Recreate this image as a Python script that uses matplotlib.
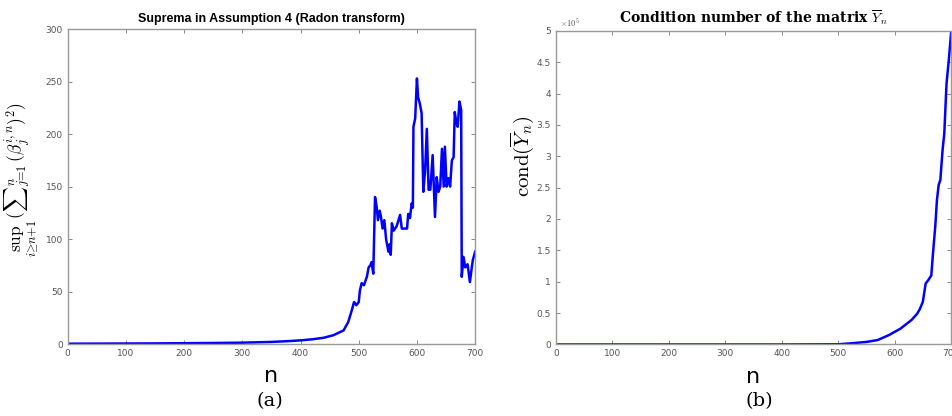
import matplotlib.pyplot as plt
from matplotlib.ticker import FuncFormatter

plt.rcParams['mathtext.fontset'] = 'cm'

# (a) suprema
n_a = [0, 50, 100, 150, 200, 250, 300, 350, 380, 400, 420, 440, 457, 474, 482,
       488, 492, 496, 500, 502, 505, 509, 512, 514, 517, 520, 522, 525, 528,
       531, 533, 536, 538, 541, 544, 547, 551, 553, 555, 557, 560, 565, 571,
       574, 583, 585, 588, 591, 593, 594, 597, 600, 602, 605, 608, 611, 614,
       617, 620, 623, 627, 631, 634, 637, 640, 643, 646, 648, 651, 654, 657,
       660, 663, 665, 668, 670, 673, 676, 677, 680, 683, 687, 691, 694, 696, 700]
sup_a = [0.3, 0.4, 0.5, 0.6, 0.8, 1.0, 1.3, 2.0, 2.8, 3.5, 4.5, 6.0, 8.5, 13,
         21, 32, 40, 37, 40, 51, 58, 56, 61, 64, 73, 75, 78, 67, 140, 130, 118,
         127, 122, 110, 118, 100, 88, 95, 85, 115, 108, 112, 123, 110, 110, 124,
         120, 134, 130, 207, 215, 253, 235, 229, 220, 145, 165, 205, 147, 147,
         180, 121, 159, 145, 150, 186, 150, 188, 150, 158, 150, 175, 178, 221,
         210, 207, 231, 223, 64, 83, 73, 76, 59, 72, 80, 88]

# (b) condition number
n_b = [0, 100, 200, 300, 400, 500, 520, 550, 570, 590, 600, 610, 620, 630, 640,
       645, 650, 655, 660, 665, 668, 672, 675, 678, 681, 685, 688, 692, 696, 700]
cond_b = [0, 0, 0, 0, 0, 300, 1600, 4000, 7000, 15000, 20000, 25000, 32000,
          39000, 49000, 57000, 68000, 97000, 103000, 110000, 145000, 188000,
          230000, 254000, 262000, 310000, 336000, 416000, 453000, 496000]

fig = plt.figure(figsize=(9.52, 4.16), dpi=100)
ax1 = fig.add_axes([0.0711, 0.173, 0.428, 0.757])
ax2 = fig.add_axes([0.584, 0.172, 0.415, 0.754])

for ax in (ax1, ax2):
    ax.set_xlim(0, 700)
    ax.set_xticks(range(0, 701, 100))
    ax.tick_params(direction='in', labelsize=6.5, labelcolor='#555555',
                   color='#777777', length=3, width=0.6, top=True, right=True)
    for s in ax.spines.values():
        s.set_color('#999999')
        s.set_linewidth(1.0)
    ax.set_xlabel('n', fontsize=16, family='DejaVu Sans', labelpad=6)

ax1.plot(n_a, sup_a, color='#0000ff', lw=1.8)
ax1.set_ylim(0, 300)
ax1.set_yticks(range(0, 301, 50))
ax1.set_title('Suprema in Assumption 4 (Radon transform)', fontsize=9,
              fontweight='bold', family='Liberation Sans', pad=5)
ax1.set_ylabel(r'$\sup_{i\geq n+1}\,({\sum}_{j=1}^{n}(\beta_j^{i,n})^2)$',
               fontsize=12.5)
ax1.yaxis.set_label_coords(-0.066, 0.52)

ax2.plot(n_b, cond_b, color='#0000ff', lw=1.8)
ax2.set_ylim(0, 500000)
ax2.set_yticks([i * 50000 for i in range(11)])
ax2.yaxis.set_major_formatter(FuncFormatter(lambda v, _: f'{v / 1e5:g}'))
ax2.text(0.01, 1.005, r'$\times10^5$', transform=ax2.transAxes, fontsize=6,
         color='#555555', va='bottom')
ax2.set_title(r'Condition number of the matrix $\overline{Y}_n$', fontsize=10,
              fontweight='bold', family='DejaVu Serif', pad=6)
ax2.set_ylabel(r'$\mathrm{cond}(\overline{Y}_n)$', fontsize=15)
ax2.yaxis.set_label_coords(-0.05, 0.6)

fig.text(0.284, 0.024, '(a)', fontsize=14, family='DejaVu Serif', ha='center')
fig.text(0.798, 0.024, '(b)', fontsize=14, family='DejaVu Serif', ha='center')

fig.savefig('out.png', dpi=100)
